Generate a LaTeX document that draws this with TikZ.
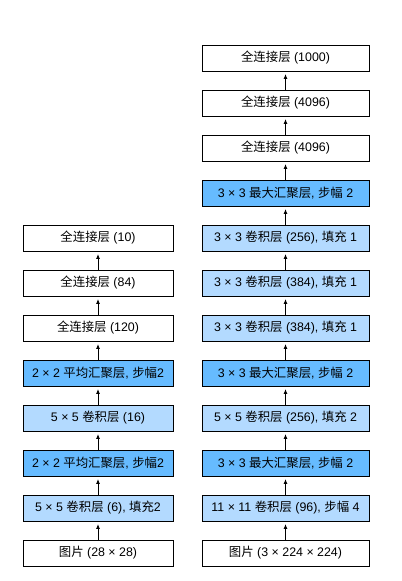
\documentclass[tikz,border=0pt]{standalone}
\usepackage{fontspec}
\usetikzlibrary{arrows.meta}
\setmainfont{Liberation Sans}
\newfontfamily\cjk{Noto Sans CJK SC}
\newcommand{\zh}[1]{{\cjk #1}}
\definecolor{convblue}{HTML}{B3DAFF}
\definecolor{poolblue}{HTML}{66BBFF}
\begin{document}
\begin{tikzpicture}[x=1bp,y=1bp,
  layer/.style={draw=black, line width=0.9bp, minimum height=26bp, inner sep=0pt, font=\fontsize{12.4bp}{14bp}\selectfont, fill=white},
  lbox/.style={layer, minimum width=150bp},
  rbox/.style={layer, minimum width=167bp},
  conv/.style={fill=convblue},
  pool/.style={fill=poolblue},
  arr/.style={-{Latex[length=5bp,width=4bp]}, line width=0.9bp, shorten >=2.5bp}]
\useasboundingbox (0,0) rectangle (401,-581);
% left column (LeNet)
\node[lbox] (l0) at (98,-553) {\zh{图片} (28 × 28)};
\node[lbox,conv] (l1) at (98,-508) {5 × 5 \zh{卷积层} (6), \zh{填充}2};
\node[lbox,pool] (l2) at (98,-463) {2 × 2 \zh{平均汇聚层}, \zh{步幅}2};
\node[lbox,conv] (l3) at (98,-418) {5 × 5 \zh{卷积层} (16)};
\node[lbox,pool] (l4) at (98,-373) {2 × 2 \zh{平均汇聚层}, \zh{步幅}2};
\node[lbox] (l5) at (98,-328) {\zh{全连接层} (120)};
\node[lbox] (l6) at (98,-283) {\zh{全连接层} (84)};
\node[lbox] (l7) at (98,-238) {\zh{全连接层} (10)};
% right column (AlexNet)
\node[rbox] (r0) at (285.5,-553) {\zh{图片} (3 × 224 × 224)};
\node[rbox,conv] (r1) at (285.5,-508) {11 × 11 \zh{卷积层} (96), \zh{步幅} 4};
\node[rbox,pool] (r2) at (285.5,-463) {3 × 3 \zh{最大汇聚层}, \zh{步幅} 2};
\node[rbox,conv] (r3) at (285.5,-418) {5 × 5 \zh{卷积层} (256), \zh{填充} 2};
\node[rbox,pool] (r4) at (285.5,-373) {3 × 3 \zh{最大汇聚层}, \zh{步幅} 2};
\node[rbox,conv] (r5) at (285.5,-328) {3 × 3 \zh{卷积层} (384), \zh{填充} 1};
\node[rbox,conv] (r6) at (285.5,-283) {3 × 3 \zh{卷积层} (384), \zh{填充} 1};
\node[rbox,conv] (r7) at (285.5,-238) {3 × 3 \zh{卷积层} (256), \zh{填充} 1};
\node[rbox,pool] (r8) at (285.5,-193) {3 × 3 \zh{最大汇聚层}, \zh{步幅} 2};
\node[rbox] (r9) at (285.5,-148) {\zh{全连接层} (4096)};
\node[rbox] (r10) at (285.5,-103) {\zh{全连接层} (4096)};
\node[rbox] (r11) at (285.5,-58) {\zh{全连接层} (1000)};
% arrows
\foreach \a/\b in {l0/l1,l1/l2,l2/l3,l3/l4,l4/l5,l5/l6,l6/l7}
  \draw[arr] (\a.north) -- (\b.south);
\foreach \a/\b in {r0/r1,r1/r2,r2/r3,r3/r4,r4/r5,r5/r6,r6/r7,r7/r8,r8/r9,r9/r10,r10/r11}
  \draw[arr] (\a.north) -- (\b.south);
\end{tikzpicture}
\end{document}
